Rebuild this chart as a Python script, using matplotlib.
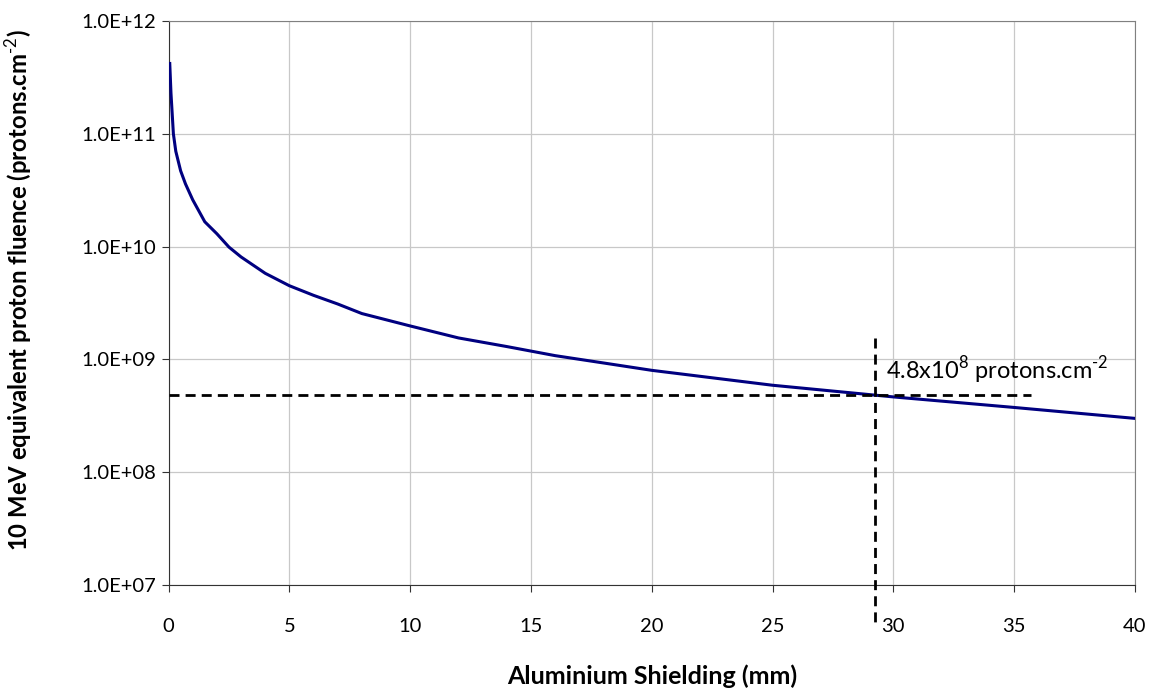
import matplotlib
matplotlib.use("Agg")
import matplotlib.pyplot as plt
from matplotlib.ticker import FixedLocator, FuncFormatter

plt.rcParams['font.family'] = ['Lato', 'DejaVu Sans']
plt.rcParams['mathtext.fontset'] = 'custom'
plt.rcParams['mathtext.rm'] = 'Lato'
plt.rcParams['mathtext.bf'] = 'Lato:bold'

# shielding thickness (mm) and 10 MeV equivalent fluence (protons/cm2)
thickness = [0.05, 0.1, 0.2, 0.3, 0.5, 0.7, 1.0, 1.5, 2.0, 2.5, 3.0, 4.0, 5.0,
             6.0, 7.0, 8.0, 10, 12, 14, 16, 18, 20, 25, 30, 35, 40]
fluence = [4.2e11, 2.3e11, 1.0e11, 7.0e10, 4.7e10, 3.6e10, 2.6e10, 1.66e10,
           1.3e10, 9.9e9, 8.1e9, 5.8e9, 4.5e9, 3.7e9, 3.1e9, 2.55e9, 1.98e9,
           1.55e9, 1.3e9, 1.08e9, 9.3e8, 8.0e8, 5.9e8, 4.65e8, 3.75e8, 3.0e8]

req_thickness = 29.25
req_fluence = 4.8e8
hline_end = 35.7

x_ticks = [0, 5, 10, 15, 20, 25, 30, 35, 40]
y_ticks = [1e7, 1e8, 1e9, 1e10, 1e11, 1e12]

fig = plt.figure(figsize=(11.6, 6.91), dpi=100)
ax = fig.add_axes([0.1453, 0.1534, 0.8331, 0.8162])

ax.plot(thickness, fluence, color='#000080', lw=2.2, zorder=3)

# requirement markers
dash = (0, (3.6, 2.2))
ax.plot([0, hline_end], [req_fluence, req_fluence], color='black', lw=2.0,
        ls=dash, zorder=4)
ax.plot([req_thickness, req_thickness], [1.55e9, 10**6.67], color='black',
        lw=2.0, ls=dash, zorder=4, clip_on=False)
ax.text(29.7, 8.0e8, r'4.8x10$^{8}$ protons.cm$^{\text{-2}}$', fontsize=17,
        va='center', ha='left')

ax.set_yscale('log')
ax.set_xlim(0, 40)
ax.set_ylim(1e7, 1e12)
ax.xaxis.set_major_locator(FixedLocator(x_ticks))
ax.yaxis.set_major_locator(FixedLocator(y_ticks))
ax.yaxis.set_minor_locator(FixedLocator([]))
ax.yaxis.set_major_formatter(FuncFormatter(lambda v, p: '%.1E' % v))

ax.grid(True, color='#c8c8c8', lw=0.9)
ax.set_axisbelow(True)
for side in ['top', 'right']:
    ax.spines[side].set_color('#808080')
for side in ['left', 'bottom']:
    ax.spines[side].set_color('#333333')
ax.tick_params(axis='both', labelsize=14.5, length=5, color='#333333')
ax.tick_params(axis='x', pad=19)
ax.tick_params(axis='y', pad=4)

ax.set_xlabel('Aluminium Shielding (mm)', fontsize=18, fontweight='bold')
ax.set_ylabel(r'10 MeV equivalent proton fluence (protons.cm$^{\mathbf{\text{-2}}}$)',
              fontsize=17.2, fontweight='bold')
ax.xaxis.set_label_coords(0.5, -0.14)
ax.yaxis.set_label_coords(-0.138, 0.522)

fig.savefig('out.png', dpi=100)
